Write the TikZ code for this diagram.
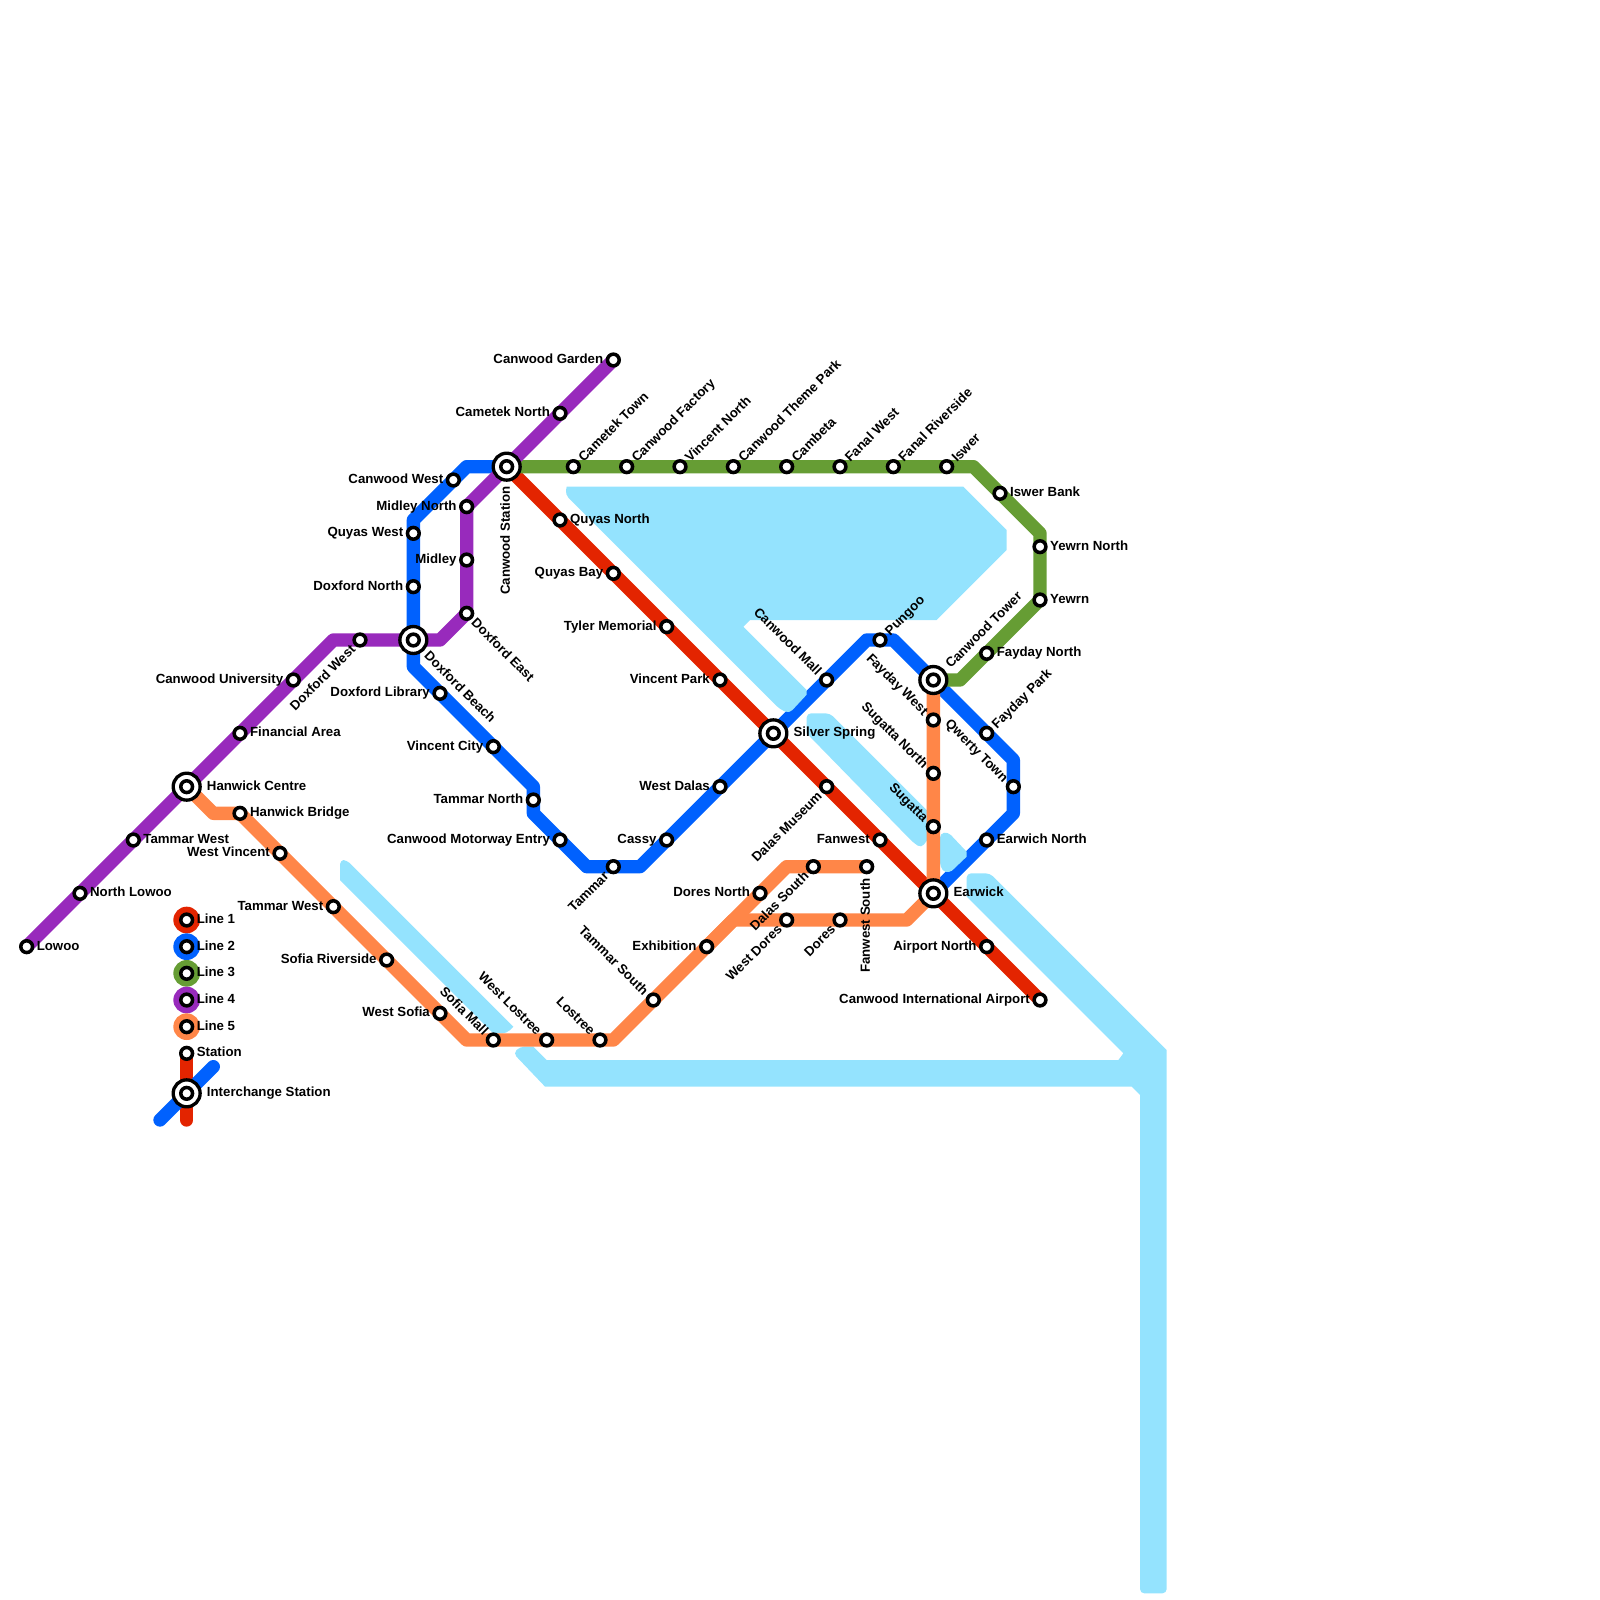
\documentclass[tikz,border=0pt]{standalone}
\usepackage{fontspec}
\setmainfont{Liberation Sans}
\tikzset{
	stn/.style={circle,draw=black,fill=white,line width=.066cm,minimum size=.22cm,inner sep=0pt,outer sep=0pt},
	bigstn/.style={circle,draw=black,fill=white,line width=.0625cm,minimum size=.505cm,inner sep=0pt,outer sep=0pt},
	txt/.style={inner sep=0pt,outer sep=0pt,font=\fontsize{7.07}{8}\selectfont\bfseries,text=black,text height=5pt,text depth=0pt},
	lr/.style={txt,anchor=west,xshift=.19cm,yshift=.02cm},
	ll/.style={txt,anchor=east,xshift=-.19cm,yshift=.02cm},
	lur/.style={txt,rotate=45,anchor=west,xshift=.19cm},
	lul/.style={txt,rotate=-45,anchor=east,xshift=-.19cm},
	ldr/.style={txt,rotate=-45,anchor=west,xshift=.19cm},
	ldl/.style={txt,rotate=45,anchor=east,xshift=-.19cm},
	lv/.style={txt,rotate=90,anchor=east,xshift=-.22cm,yshift=.03cm},
	ir/.style={txt,anchor=west,xshift=.38cm,yshift=.02cm},
	iur/.style={txt,rotate=45,anchor=west,xshift=.38cm},
	idr/.style={txt,rotate=-45,anchor=west,xshift=.36cm},
	iv/.style={txt,rotate=90,anchor=east,xshift=-.37cm,yshift=.03cm},
	water/.style={fill=waterblue},
	metro/.style={line width=.25cm,line join=round}
}
\begin{document}
\begin{tikzpicture}[x=.5cm,y=-.5cm]
	\definecolor{waterblue}{HTML}{94E3FE}
	\definecolor{lineone}{HTML}{E32400}
	\definecolor{linetwo}{HTML}{0061FE}
	\definecolor{linethree}{HTML}{669D34}
	\definecolor{linefour}{HTML}{982ABC}
	\definecolor{linefive}{HTML}{FF8648}
	\useasboundingbox (0,0) rectangle (60,60);
	
	\def\stations{
		lowoo/1/35.5/lr/Lowoo,northlowoo/3/33.5/lr/North Lowoo,tammarw/5/31.5/lr/Tammar West,
		hanwick/7/29.5/ir/Hanwick Centre,financial/9/27.5/lr/Financial Area,
		university/11/25.5/ll/Canwood University,doxfordw/13.5/24/ldl/Doxford West,
		doxford/15.5/24/idr/Doxford Beach,doxforde/17.5/23/ldr/Doxford East,
		midley/17.5/21/ll/Midley,midleyn/17.5/19/ll/Midley North,
		canwood/19/17.5/iv/Canwood Station,cametekn/21/15.5/ll/Cametek North,
		garden/23/13.5/ll/Canwood Garden,
		canwoodw/17/18/ll/Canwood West,quyasw/15.5/20/ll/Quyas West,doxfordn/15.5/22/ll/Doxford North,
		library/16.5/26/ll/Doxford Library,vincentc/18.5/28/ll/Vincent City,tammarn/20/30/ll/Tammar North,
		motorway/21/31.5/ll/Canwood Motorway Entry,tammar/23/32.5/ldl/Tammar,cassy/25/31.5/ll/Cassy,
		westdalas/27/29.5/ll/West Dalas,silver/29/27.5/ir/Silver Spring,mall/31/25.5/lul/Canwood Mall,
		pungoo/33/24/lur/Pungoo,tower/35/25.5/iur/Canwood Tower,faydayp/37/27.5/lur/Fayday Park,
		qwerty/38/29.5/lul/Qwerty Town,earwichn/37/31.5/lr/Earwich North,earwick/35/33.5/ir/Earwick,
		cametekt/21.5/17.5/lur/Cametek Town,factory/23.5/17.5/lur/Canwood Factory,
		vincentn/25.5/17.5/lur/Vincent North,theme/27.5/17.5/lur/Canwood Theme Park,
		cambeta/29.5/17.5/lur/Cambeta,fanalw/31.5/17.5/lur/Fanal West,fanalr/33.5/17.5/lur/Fanal Riverside,
		iswer/35.5/17.5/lur/Iswer,iswerb/37.5/18.5/lr/Iswer Bank,yewrnn/39/20.5/lr/Yewrn North,
		yewrn/39/22.5/lr/Yewrn,faydayn/37/24.5/lr/Fayday North,
		quyasn/21/19.5/lr/Quyas North,quyasb/23/21.5/ll/Quyas Bay,tyler/25/23.5/ll/Tyler Memorial,
		vincentp/27/25.5/ll/Vincent Park,museum/31/29.5/ldl/Dalas Museum,fanwest/33/31.5/ll/Fanwest,
		airportn/37/35.5/ll/Airport North,airport/39/37.5/ll/Canwood International Airport,
		hanwickb/9/30.5/lr/Hanwick Bridge,westv/10.5/32/ll/West Vincent,tammarw2/12.5/34/ll/Tammar West,
		sofiar/14.5/36/ll/Sofia Riverside,wests/16.5/38/ll/West Sofia,sofiam/18.5/39/lul/Sofia Mall,
		westl/20.5/39/lul/West Lostree,lostree/22.5/39/lul/Lostree,tammars/24.5/37.5/lul/Tammar South,
		exhibition/26.5/35.5/ll/Exhibition,doresn/28.5/33.5/ll/Dores North,dalass/30.5/32.5/ldl/Dalas South,
		fanwests/32.5/32.5/lv/Fanwest South,westd/29.5/34.5/ldl/West Dores,dores/31.5/34.5/ldl/Dores,
		sugatta/35/31/lul/Sugatta,sugattan/35/29/lul/Sugatta North,faydayw/35/27/lul/Fayday West,
		keyst/7/39.5/lr/Station,keyint/7/41/ir/Interchange Station
	}
	\foreach \n/\x/\y/\s/\t in \stations{
		\coordinate (\n) at (\x,\y);
	}
	
	\path
	(12.5,24) coordinate (pb1) (16.5,24) coordinate (pb2)
	(17.5,17.5) coordinate (bb1) (15.5,19.5) coordinate (bb2) (15.5,25) coordinate (bb3)
	(20,29.5) coordinate (bb4) (20,30.5) coordinate (bb5) (22,32.5) coordinate (bb6)
	(24,32.5) coordinate (bb7) (32.5,24) coordinate (bb8) (33.5,24) coordinate (bb9)
	(38,28.5) coordinate (bb10) (38,30.5) coordinate (bb11)
	(36.5,17.5) coordinate (gb1) (39,20) coordinate (gb2) (36,25.5) coordinate (gb3)
	(8,30.5) coordinate (ob1) (17.5,39) coordinate (ob2) (23,39) coordinate (ob3)
	(29.5,32.5) coordinate (ob4) (27.5,34.5) coordinate (ob5) (34,34.5) coordinate (ob6)
	(7,42) coordinate (keyr) (6,42) coordinate (keyb1) (8,40) coordinate (keyb2);
	
	\draw[metro,linetwo] (canwood)--(bb1)--(canwoodw)--(bb2)--(quyasw)--(doxfordn)--(doxford)--(bb3)--(library)--(vincentc)--(bb4)--(tammarn)--(bb5)--(motorway)--(bb6)--(tammar)--(bb7)--(cassy)--(westdalas)--(silver)--(mall)--(bb8)--(pungoo)--(bb9)--(tower)--(faydayp)--(bb10)--(qwerty)--(bb11)--(earwichn)--(earwick);
	
	%water
	\fill[water] [rounded corners=.08cm] (21.25,18.25)--(21.2,18.55)
	--(29.25,26.6)--(29.6,26.75)[sharp corners]--(30.25,26.05)--(30.25,25.875)--(27.875,23.5)
	--(28.125,23.25)--(35.125,23.25)--(37.75,20.625)--(37.75,19.875)--(36.125,18.25)--cycle;
	\fill[water] [rounded corners=.08cm] (30.25,27.5)--(30.25,26.75)--(31.125,26.75)[sharp corners]
	--(35,30.625)--(35,31.2)[rounded corners=.08cm]--(34.55,31.8)--(34.25,31.6)[sharp corners]--cycle;
	\fill[water] [rounded corners=.08cm] (35.25,31.25)--(35.55,31.2)[sharp corners]--(36.25,31.94)
	--(36.25,32.125)--(35.7,32.65)[rounded corners=.08cm]--(35.45,32.75)--(35.25,32.5)--cycle;
	\fill[water] [rounded corners=.08cm] (36.25,33.625)--(36.25,32.75)--(37.125,32.75)[sharp corners]
	--(43.75,39.375)[rounded corners=.08cm]--(43.75,59.75)--(42.75,59.75)[sharp corners]
	--(42.75,41.06)--(42.44,40.75)--(20.44,40.75)[rounded corners=.08cm]--(19.25,39.5)--(19.5,39.25)
	[sharp corners]--(20,39.25)--(20.5,39.75)--(41.94,39.75)--(42.125,39.5)--cycle;
	\fill[water] [rounded corners=.08cm] (12.75,33)--(12.75,32.25)--(13,32.25)[sharp corners]
	--(19.25,38.5)[rounded corners=.08cm]--(19,38.75)[sharp corners]--(18.5,38.75)--cycle;
	
	%lines
	\draw[metro,lineone] (canwood)--(quyasn)--(quyasb)--(tyler)--(vincentp)--(silver)--(museum)--(fanwest)--(earwick)--(airportn)--(airport);
	\draw[metro,linethree] (canwood)--(cametekt)--(iswer)--(gb1)--(iswerb)--(gb2)--(yewrnn)--(yewrn)--(faydayn)--(gb3)--(tower);
	\draw[metro,linefour] (lowoo)--(hanwick)--(university)--(pb1)--(doxfordw)--(doxford)--(pb2)--(doxforde)--(midley)--(midleyn)--(canwood)--(cametekn)--(garden);
	\draw[metro,linefive] (hanwick)--(ob1)--(hanwickb)--(westv)--(ob2)--(ob3)--(exhibition)--(doresn)--(ob4)--(fanwests);
	\draw[metro,linefive] (exhibition)--(ob5)--(ob6)--(earwick)--(tower);
	
	%legend
	\foreach \c/\i in {lineone/1,linetwo/2,linethree/3,linefour/4,linefive/5}{
		\fill[\c] (7,33.5+\i) circle (.25cm);
		\node[stn] (key\i) at (7,33.5+\i) {};
		\node[lr] (keytxt\i) at (7,33.5+\i) {Line \i};
	}
	\draw[metro,lineone,line cap=round] (keyst)--(keyr);
	\draw[metro,linetwo,line cap=round] (keyb1)--(keyb2);
	
	%stations
	\foreach \n in {hanwick,doxford,canwood,silver,tower,earwick,keyint}{
		\node[bigstn] (big\n) at (\n) {};
	}
	\foreach \n/\x/\y/\s/\t in \stations{
		\node[stn] (st\n) at (\n) {};
		\node[\s] (lab\n) at (\n) {\t};
	}
\end{tikzpicture}
\end{document}
